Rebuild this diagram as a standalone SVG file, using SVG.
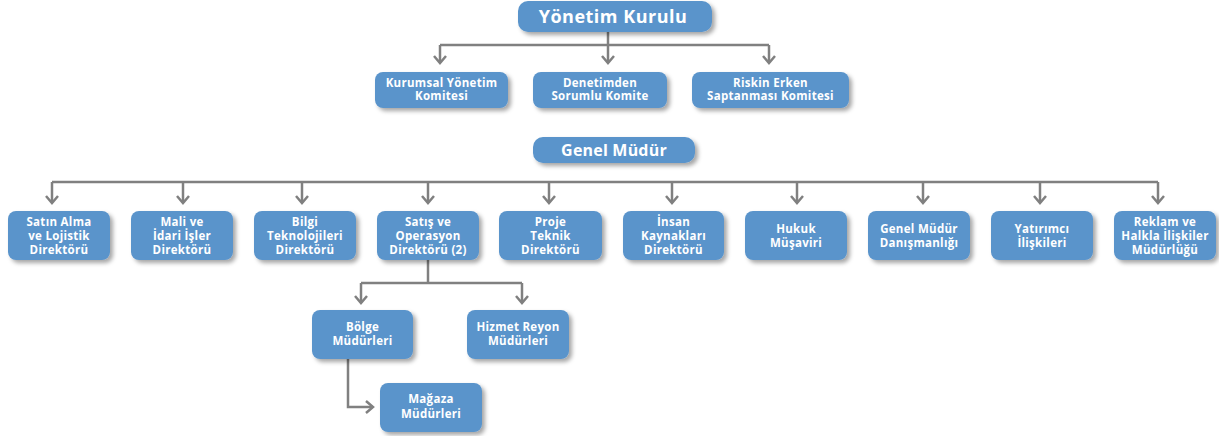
<svg xmlns="http://www.w3.org/2000/svg" width="1219" height="436" viewBox="0 0 1219 436">
<defs>
<style>
.box{fill:#5a94cb;filter:url(#sh)}
.t{fill:#fff;font-family:"Open Sans","Noto Sans",sans-serif;font-weight:bold;font-size:11.5px;letter-spacing:0.3px;text-anchor:middle}
.big{font-size:18px;letter-spacing:0.5px}
.mid{font-size:16px;letter-spacing:0.2px}
.c{fill:none;stroke:#808080;stroke-width:2.5}
</style>
<filter id="sh" x="-20%" y="-30%" width="150%" height="170%">
<feDropShadow dx="3" dy="3" stdDeviation="2" flood-color="#000" flood-opacity="0.35"/>
</filter>
<marker id="ar" viewBox="-10 -8 12 16" markerWidth="12" markerHeight="16" refX="0" refY="0" orient="auto" markerUnits="userSpaceOnUse">
<path d="M-7,-6 L0,0 L-7,6" fill="none" stroke="#808080" stroke-width="2.5"/>
</marker>
</defs>
<rect width="1219" height="436" fill="#fff"/>
<g id="connectors" class="c">
<path d="M608,32 V45"/>
<path d="M440,45 H769"/>
<path d="M440,45 V63" marker-end="url(#ar)"/>
<path d="M608,45 V63" marker-end="url(#ar)"/>
<path d="M769,45 V63" marker-end="url(#ar)"/>
<path d="M52,182 H1158"/>
<path d="M52,182 V203" marker-end="url(#ar)"/>
<path d="M183,182 V203" marker-end="url(#ar)"/>
<path d="M302,182 V203" marker-end="url(#ar)"/>
<path d="M428,182 V203" marker-end="url(#ar)"/>
<path d="M549,182 V203" marker-end="url(#ar)"/>
<path d="M672,182 V203" marker-end="url(#ar)"/>
<path d="M797,182 V203" marker-end="url(#ar)"/>
<path d="M923,182 V203" marker-end="url(#ar)"/>
<path d="M1040,182 V203" marker-end="url(#ar)"/>
<path d="M1158,182 V203" marker-end="url(#ar)"/>
<path d="M428,260 V283"/>
<path d="M361,283 H522"/>
<path d="M361,283 V303" marker-end="url(#ar)"/>
<path d="M522,283 V303" marker-end="url(#ar)"/>
<path d="M348,359 V407 H373" marker-end="url(#ar)"/>
</g>
<g id="yonetim-kurulu"><rect class="box" x="518" y="1" width="194" height="31" rx="10"/><text class="t big" x="613" y="23">Yönetim Kurulu</text></g>
<g id="kurumsal"><rect class="box" x="375" y="72" width="133" height="36" rx="8"/><text class="t" x="441.5" y="86.5">Kurumsal Yönetim</text><text class="t" x="441.5" y="100">Komitesi</text></g>
<g id="denetim"><rect class="box" x="533" y="72" width="134" height="36" rx="8"/><text class="t" x="600" y="86.5">Denetimden</text><text class="t" x="600" y="100">Sorumlu Komite</text></g>
<g id="riskin"><rect class="box" x="692" y="72" width="157" height="36" rx="8"/><text class="t" x="770.5" y="86.5">Riskin Erken</text><text class="t" x="770.5" y="100">Saptanması Komitesi</text></g>
<g id="genel-mudur"><rect class="box" x="533" y="137" width="162" height="26" rx="10"/><text class="t mid" x="614" y="156">Genel Müdür</text></g>
<g id="satin-alma"><rect class="box" x="8" y="211" width="102" height="49" rx="8"/><text class="t" x="59" y="226">Satın Alma</text><text class="t" x="59" y="240">ve Lojistik</text><text class="t" x="59" y="254">Direktörü</text></g>
<g id="mali"><rect class="box" x="131" y="211" width="102" height="49" rx="8"/><text class="t" x="182" y="226">Mali ve</text><text class="t" x="182" y="240">İdari İşler</text><text class="t" x="182" y="254">Direktörü</text></g>
<g id="bilgi"><rect class="box" x="254" y="211" width="102" height="49" rx="8"/><text class="t" x="305" y="226">Bilgi</text><text class="t" x="305" y="240">Teknolojileri</text><text class="t" x="305" y="254">Direktörü</text></g>
<g id="satis"><rect class="box" x="377" y="211" width="102" height="49" rx="8"/><text class="t" x="428" y="226">Satış ve</text><text class="t" x="428" y="240">Operasyon</text><text class="t" x="428" y="254">Direktörü (2)</text></g>
<g id="proje"><rect class="box" x="499" y="211" width="103" height="49" rx="8"/><text class="t" x="550.5" y="226">Proje</text><text class="t" x="550.5" y="240">Teknik</text><text class="t" x="550.5" y="254">Direktörü</text></g>
<g id="insan"><rect class="box" x="623" y="211" width="101" height="49" rx="8"/><text class="t" x="673.5" y="226">İnsan</text><text class="t" x="673.5" y="240">Kaynakları</text><text class="t" x="673.5" y="254">Direktörü</text></g>
<g id="hukuk"><rect class="box" x="745" y="211" width="102" height="49" rx="8"/><text class="t" x="796" y="233">Hukuk</text><text class="t" x="796" y="247">Müşaviri</text></g>
<g id="danismanlik"><rect class="box" x="868" y="211" width="102" height="49" rx="8"/><text class="t" x="919" y="233">Genel Müdür</text><text class="t" x="919" y="247">Danışmanlığı</text></g>
<g id="yatirimci"><rect class="box" x="991" y="211" width="102" height="49" rx="8"/><text class="t" x="1042" y="233">Yatırımcı</text><text class="t" x="1042" y="247">İlişkileri</text></g>
<g id="reklam"><rect class="box" x="1114" y="211" width="102" height="49" rx="8"/><text class="t" x="1165" y="226">Reklam ve</text><text class="t" x="1165" y="240">Halkla İlişkiler</text><text class="t" x="1165" y="254">Müdürlüğü</text></g>
<g id="bolge"><rect class="box" x="312" y="310" width="101" height="49" rx="8"/><text class="t" x="362.5" y="331">Bölge</text><text class="t" x="362.5" y="345">Müdürleri</text></g>
<g id="hizmet"><rect class="box" x="467" y="310" width="102" height="49" rx="8"/><text class="t" x="518" y="331">Hizmet Reyon</text><text class="t" x="518" y="345">Müdürleri</text></g>
<g id="magaza"><rect class="box" x="380" y="383" width="102" height="49" rx="8"/><text class="t" x="431" y="403">Mağaza</text><text class="t" x="431" y="418">Müdürleri</text></g>
</svg>
